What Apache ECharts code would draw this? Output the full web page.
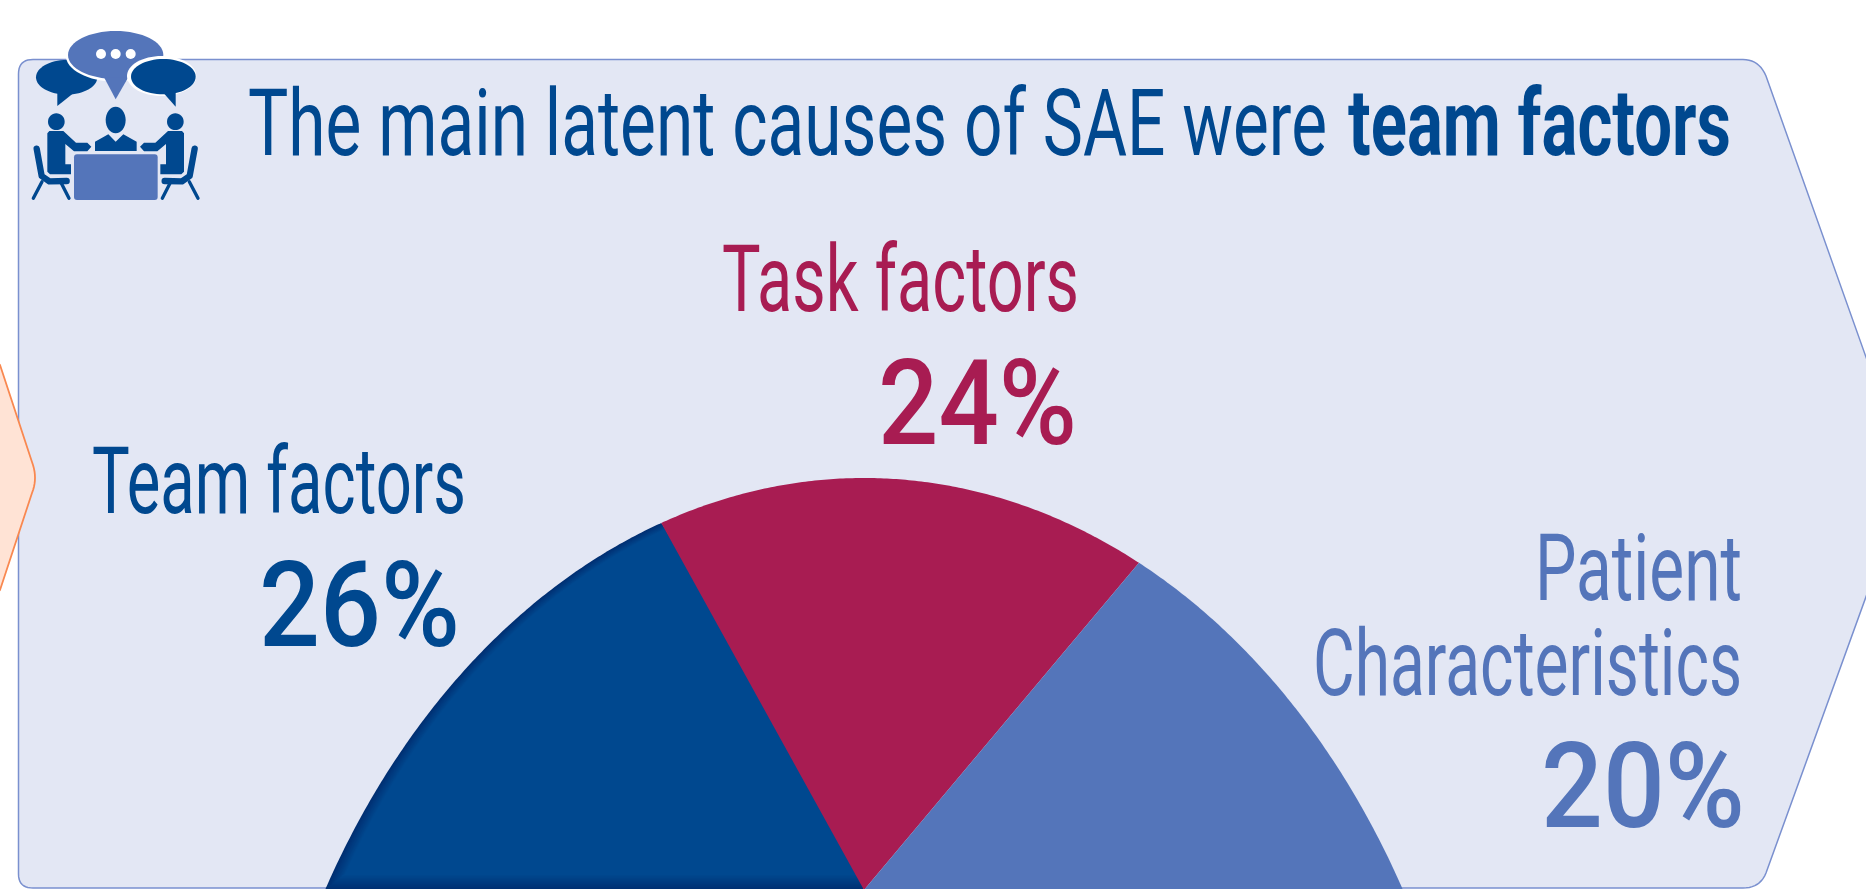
<!DOCTYPE html>
<html><head><meta charset="utf-8">
<style>html,body{margin:0;padding:0;background:#fff;overflow:hidden}#c{width:1866px;height:889px}</style>
<script src="https://cdn.jsdelivr.net/npm/echarts@6/dist/echarts.min.js"></script>
</head><body><div id="c"></div>
<script>
const categories = ['Team factors', 'Task factors', 'Patient Characteristics'];
const values = [26, 24, 20];
const titleRegular = 'The main latent causes of SAE were';
const titleBold = 'team factors';
const colors = ['#00488F', '#A81C52', '#5475BA'];

const FONT = 'Roboto,"Open Sans",sans-serif';
const BLUE = colors[0], RED = colors[1], MID = colors[2];
const chart = echarts.init(document.getElementById('c'), null, {renderer:'canvas', width:1866, height:889});

const mctx = document.createElement('canvas').getContext('2d');
function label(text, x0, x1, cy, size, weight, fill){
  const font = (weight||'normal')+' '+size+'px '+FONT;
  mctx.font = font;
  const w = mctx.measureText(text).width;
  return {type:'text', x:x0, y:cy, scaleX:(x1-x0)/w,
    style:{text, font, fill, textAlign:'left', verticalAlign:'middle'}};
}

/* perspective projection of the pie plane */
const P = {cx:864, cy:890, ax:539, ay:618, k:0.5, sweep:0.883, start:205};
function proj(r, deg){
  const t = deg*Math.PI/180, u = r*Math.cos(t), v = r*Math.sin(t), w = 1+P.k*v;
  return [P.cx+P.ax*u/w, P.cy-P.ay*v/w];
}
function slicePts(a0, a1, r, maxY){
  const pts = [[P.cx,P.cy]];
  for(let a=a0; a>=a1; a-=0.5) pts.push(proj(r,a));
  pts.push(proj(r,a1));
  return maxY ? pts.map(p=>[p[0],Math.min(p[1],maxY)]) : pts;
}
function renderSlice(params, api){
  const i = params.dataIndex, f = 3.6*P.sweep;
  let before = 0; for(let j=0;j<i;j++) before += values[j];
  const a0 = P.start-before*f, a1 = a0-api.value(0)*f;
  const c = colors[i];
  if(i===0){
    const kids = [], steps = 10;
    for(let n=0;n<=steps;n++){
      const t = n/steps;
      const col = 'rgb('+Math.round(0)+','+Math.round(47+25*t)+','+Math.round(114+29*t)+')';
      kids.push({type:'polygon',shape:{points:slicePts(a0,a1,1-0.024*t,n?890-15*t:0)},style:{fill:col}});
    }
    return {type:'group',children:kids};
  }
  return {type:'polygon',shape:{points:slicePts(a0,a1,1)},style:{fill:c}};
}

/* icon, coordinates in 3x crop space */
const s = v=>v/3;
function ell(cx,cy,rx,ry,fill){return {type:'ellipse',shape:{cx:s(cx),cy:s(cy),rx:s(rx),ry:s(ry)},style:{fill}};}
function poly(pts,fill){return {type:'polygon',shape:{points:pts.map(p=>[s(p[0]),s(p[1])])},style:{fill}};}
function pline(pts,w,stroke){return {type:'polyline',shape:{points:pts.map(p=>[s(p[0]),s(p[1])])},style:{stroke,lineWidth:s(w),lineCap:'round',lineJoin:'round',fill:null}};}
function person(mx){
  const m = p=>mx?[694-p[0],p[1]]:p;
  return [
    ell(mx?526:169,365,25,25,BLUE),
    poly([[148,393],[190,393],[228,428],[262,428],[274,440],[262,454],[222,454],[196,432],[196,493],[213,493],[213,523],[150,523],[142,515],[142,400]].map(m),BLUE),
    pline([[110,446],[125,528],[148,544],[200,543]].map(m),19,BLUE),
    pline([[126,545],[100,595]].map(m),10,BLUE),
    pline([[184,550],[207,595]].map(m),10,BLUE)
  ];
}
const icon = [
  ell(200,232,92,52,BLUE), poly([[172,318],[172,270],[220,280]],BLUE),
  ell(347,165,150,80,'#fff'),
  ell(347,165,143,72,MID), poly([[347,298],[312,232],[385,232]],MID),
  ell(485,228,104,60,'#fff'),
  ell(490,230,97,53,BLUE), poly([[527,320],[490,278],[527,272]],BLUE),
  {type:'circle',shape:{cx:s(303),cy:s(162),r:5},style:{fill:'#fff'}},
  {type:'circle',shape:{cx:s(347),cy:s(162),r:5},style:{fill:'#fff'}},
  {type:'circle',shape:{cx:s(392),cy:s(162),r:5},style:{fill:'#fff'}},
  ell(347,360,30,40,BLUE),
  poly([[285,425],[325,403],[347,425],[370,403],[410,425],[410,453],[285,453]],BLUE),
  ...person(false), ...person(true),
  {type:'rect',shape:{x:s(222),y:s(463),width:s(251),height:s(137),r:3},style:{fill:MID}}
];

/* outline helper: p = corner point, optional q = control for a rounded turn */
function outline(list){
  const out = []; let prev = null;
  list.forEach(it=>{
    if(it.length===2){ out.push(it); prev = it; }
    else { for(let t=0.1;t<=1.001;t+=0.1){
        const a=(1-t)*(1-t),b=2*t*(1-t),c=t*t;
        out.push([a*prev[0]+b*it[0]+c*it[2], a*prev[1]+b*it[1]+c*it[3]]);
      } prev=[it[2],it[3]]; }
  });
  return out;
}
const panelPts = outline([[18.5,74],[18.5,59.5,33,59.5],[1743,59.5],[1759,59.5,1766,76],[1909,478],[1766,873],[1760,888,1743,888],[33,888],[18.5,888,18.5,874]]);
const hexPts = outline([[-60,300],[0,365],[32,462],[38,478,32,493],[0,590],[-60,640]]);

const graphic = [
  {type:'polygon',shape:{points:panelPts},style:{fill:'#E3E7F4',stroke:'#7A90CF',lineWidth:1.5}},
  {type:'polygon',shape:{points:hexPts},style:{fill:'#FFE3D5',stroke:'#F98850',lineWidth:1.8}},
  {type:'group',children:icon},
  label(titleRegular,248,1327,132,92,'normal',BLUE),
  label(titleBold,1348,1731,132,92,'bold',BLUE),
  label(categories[1],722,1079,288,92,'normal',RED),
  label(values[1]+'%',878,1077,414,118,'500',RED),
  label(categories[0],92,466,490,92,'normal',BLUE),
  label(values[0]+'%',259,460,616,118,'500',BLUE),
  label('Patient',1535,1742,577,92,'normal',MID),
  label('Characteristics',1313,1742,672,92,'normal',MID),
  label(values[2]+'%',1541,1745,797,118,'500',MID)
];

chart.setOption({
  animation:false,
  backgroundColor:'#fff',
  graphic,
  series:[{type:'custom',coordinateSystem:'none',renderItem:renderSlice,silent:true,clip:false,
    data:values.map(v=>[v])}]
});
</script></body></html>
